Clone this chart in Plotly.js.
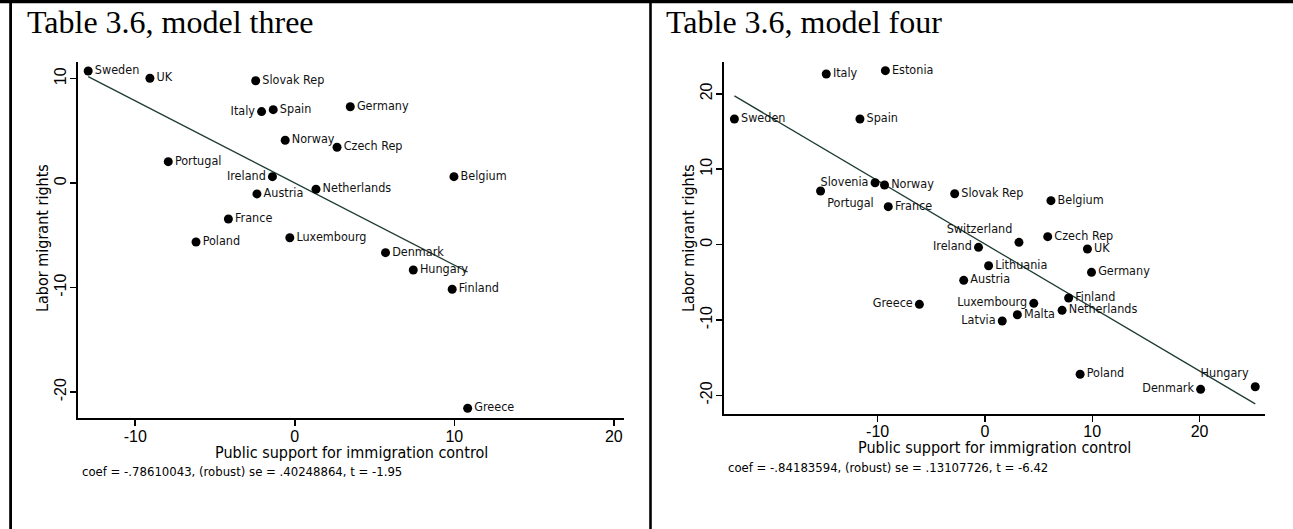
<!DOCTYPE html>
<html>
<head>
<meta charset="utf-8">
<script src="https://cdn.plot.ly/plotly-3.0.1.min.js"></script>
<style>
  html, body { margin: 0; padding: 0; background: #ffffff; }
  #chart { width: 1293px; height: 529px; }
</style>
</head>
<body>
<div id="chart"></div>
<script>
// ---- Model three: residualised public support vs. labor migrant rights ----
const countriesM3 = ['Sweden', 'UK', 'Slovak Rep', 'Italy', 'Spain', 'Germany', 'Norway', 'Czech Rep',
  'Portugal', 'Ireland', 'Belgium', 'Austria', 'Netherlands', 'France', 'Poland', 'Luxembourg',
  'Denmark', 'Hungary', 'Finland', 'Greece'];
const supportM3 = [-12.95, -9.08, -2.45, -2.08, -1.35, 3.48, -0.60, 2.65,
  -7.93, -1.40, 9.98, -2.37, 1.33, -4.16, -6.19, -0.31,
  5.69, 7.43, 9.87, 10.84];
const rightsM3 = [10.74, 10.04, 9.81, 6.85, 7.04, 7.32, 4.11, 3.44,
  2.06, 0.62, 0.62, -1.03, -0.58, -3.43, -5.63, -5.22,
  -6.65, -8.31, -10.16, -21.55];
const coefM3 = -0.78610043, seM3 = 0.40248864, tM3 = -1.95;

// ---- Model four ----
const countriesM4 = ['Italy', 'Estonia', 'Sweden', 'Spain', 'Slovenia', 'Norway', 'Portugal', 'France',
  'Slovak Rep', 'Belgium', 'Switzerland', 'Czech Rep', 'Ireland', 'UK', 'Lithuania', 'Germany',
  'Austria', 'Greece', 'Luxembourg', 'Finland', 'Netherlands', 'Malta', 'Latvia', 'Poland',
  'Denmark', 'Hungary'];
const supportM4 = [-14.79, -9.28, -23.35, -11.65, -10.24, -9.36, -15.32, -9.01,
  -2.82, 6.15, 3.17, 5.85, -0.60, 9.55, 0.34, 9.93,
  -1.98, -6.11, 4.55, 7.80, 7.19, 3.02, 1.61, 8.87,
  20.10, 25.19];
const rightsM4 = [22.63, 23.07, 16.66, 16.66, 8.21, 7.91, 7.11, 5.03,
  6.75, 5.83, 0.30, 1.05, -0.36, -0.58, -2.80, -3.68,
  -4.74, -7.92, -7.79, -7.08, -8.72, -9.30, -10.14, -17.20,
  -19.20, -18.85];
const coefM4 = -0.84183594, seM4 = 0.13107726, tM4 = -6.42;

// Axis tick values (shared by both panels, model four adds +20 on y)
const xTicks = [-10, 0, 10, 20];
const yTicksM3 = [-20, -10, 0, 10];
const yTicksM4 = [-20, -10, 0, 10, 20];

// Where a country's marker label sits (default: to the right of the marker)
const labelSideM3 = { 'Italy': 'middle left', 'Ireland': 'middle left' };
const labelSideM4 = {
  'Slovenia': 'middle left', 'Ireland': 'middle left', 'Greece': 'middle left',
  'Luxembourg': 'middle left', 'Latvia': 'middle left', 'Denmark': 'middle left',
  'Switzerland': 'top left', 'Hungary': 'top left', 'Portugal': 'bottom right'
};

const W = 1293, H = 529;
const px = v => v / W;
const py = v => 1 - v / H;

const mean = a => a.reduce((s, v) => s + v, 0) / a.length;

// Fitted line through the data means with the reported slope
function fitLine(xs, ys, coef, xa, ya) {
  const b0 = mean(ys) - coef * mean(xs);
  const lo = Math.min(...xs), hi = Math.max(...xs);
  return {
    x: [lo, hi], y: [b0 + coef * lo, b0 + coef * hi],
    type: 'scatter', mode: 'lines', xaxis: xa, yaxis: ya,
    line: { color: '#1d3b33', width: 1.3 }, hoverinfo: 'skip'
  };
}

function pointsTrace(names, xs, ys, sides, xa, ya) {
  return {
    x: xs, y: ys, text: names,
    textposition: names.map(n => sides[n] || 'middle right'),
    type: 'scatter', mode: 'markers+text', xaxis: xa, yaxis: ya,
    cliponaxis: false,
    marker: { color: '#000000', size: 9 },
    textfont: { family: 'DejaVu Sans Condensed', size: 12.5, color: '#111111' }
  };
}

// Stata-style numbers: plain hyphen minus, no leading zero
const stata = v => String(v).replace(/^(-?)0\./, '$1.');
const note = (c, s, t) => `coef = ${stata(c)}, (robust) se = ${stata(s)}, t = ${t.toFixed(2)}`;
const tickText = vals => vals.map(v => String(v));

const data = [
  fitLine(supportM3, rightsM3, coefM3, 'x', 'y'),
  pointsTrace(countriesM3, supportM3, rightsM3, labelSideM3, 'x', 'y'),
  fitLine(supportM4, rightsM4, coefM4, 'x2', 'y2'),
  pointsTrace(countriesM4, supportM4, rightsM4, labelSideM4, 'x2', 'y2')
];

const axisBase = {
  showline: true, linecolor: '#000000', linewidth: 2,
  ticks: 'outside', ticklen: 6, tickwidth: 1.5, tickcolor: '#000000',
  showgrid: false, zeroline: false, fixedrange: true, tickmode: 'array',
  tickfont: { family: 'Liberation Sans', size: 16, color: '#000000' }
};

const titleFont = { family: 'Liberation Serif', size: 32, color: '#000000' };
const axTitleFont = { family: 'DejaVu Sans Condensed', size: 16, color: '#000000' };
const noteFont = { family: 'DejaVu Sans Condensed', size: 13, color: '#000000' };

function ann(text, x, y, font, opts) {
  return Object.assign({
    text: text, xref: 'paper', yref: 'paper', x: px(x), y: py(y),
    xanchor: 'left', yanchor: 'middle', showarrow: false, font: font
  }, opts || {});
}

const layout = {
  width: W, height: H,
  margin: { l: 0, r: 0, t: 0, b: 0 },
  paper_bgcolor: '#ffffff', plot_bgcolor: 'rgba(0,0,0,0)',
  showlegend: false,
  xaxis: Object.assign({}, axisBase, {
    domain: [px(77.5), px(624)], range: [-13.62, 20.64],
    tickvals: xTicks, ticktext: tickText(xTicks), ticklabelstandoff: -4, anchor: 'y'
  }),
  yaxis: Object.assign({}, axisBase, {
    domain: [py(418.3), py(62)], range: [-22.51, 11.60],
    tickvals: yTicksM3, ticktext: tickText(yTicksM3), ticklabelstandoff: -3,
    tickangle: -90, anchor: 'x'
  }),
  xaxis2: Object.assign({}, axisBase, {
    domain: [px(724), px(1265)], range: [-24.32, 26.1],
    tickvals: xTicks, ticktext: tickText(xTicks), ticklabelstandoff: -5, anchor: 'y2'
  }),
  yaxis2: Object.assign({}, axisBase, {
    domain: [py(414.3), py(61.7)], range: [-22.51, 24.26],
    tickvals: yTicksM4, ticktext: tickText(yTicksM4), ticklabelstandoff: -2,
    tickangle: -90, anchor: 'x2'
  }),
  annotations: [
    ann('Table 3.6, model three', 25, 22, titleFont),
    ann('Table 3.6, model four', 664, 22, titleFont),
    ann('Public support for immigration control', 351, 452, axTitleFont, { xanchor: 'center' }),
    ann('Public support for immigration control', 994.5, 447.5, axTitleFont, { xanchor: 'center' }),
    ann('Labor migrant rights', 42, 238, axTitleFont, { xanchor: 'center', textangle: -90 }),
    ann('Labor migrant rights', 688, 238, axTitleFont, { xanchor: 'center', textangle: -90 }),
    ann(note(coefM3, seM3, tM3), 80, 471.7, noteFont),
    ann(note(coefM4, seM4, tM4), 726, 467.3, noteFont)
  ],
  shapes: [
    // table rules
    { type: 'line', xref: 'paper', yref: 'paper', x0: 0, x1: 1, y0: py(1.6), y1: py(1.6),
      line: { color: '#000000', width: 3.2 } },
    { type: 'line', xref: 'paper', yref: 'paper', x0: px(10.6), x1: px(10.6), y0: 0, y1: 1,
      line: { color: '#000000', width: 2.8 } },
    { type: 'line', xref: 'paper', yref: 'paper', x0: px(650.5), x1: px(650.5), y0: 0, y1: 1,
      line: { color: '#000000', width: 2.6 } }
  ]
};

Plotly.newPlot('chart', data, layout, { displayModeBar: false, staticPlot: true });
</script>
</body>
</html>
